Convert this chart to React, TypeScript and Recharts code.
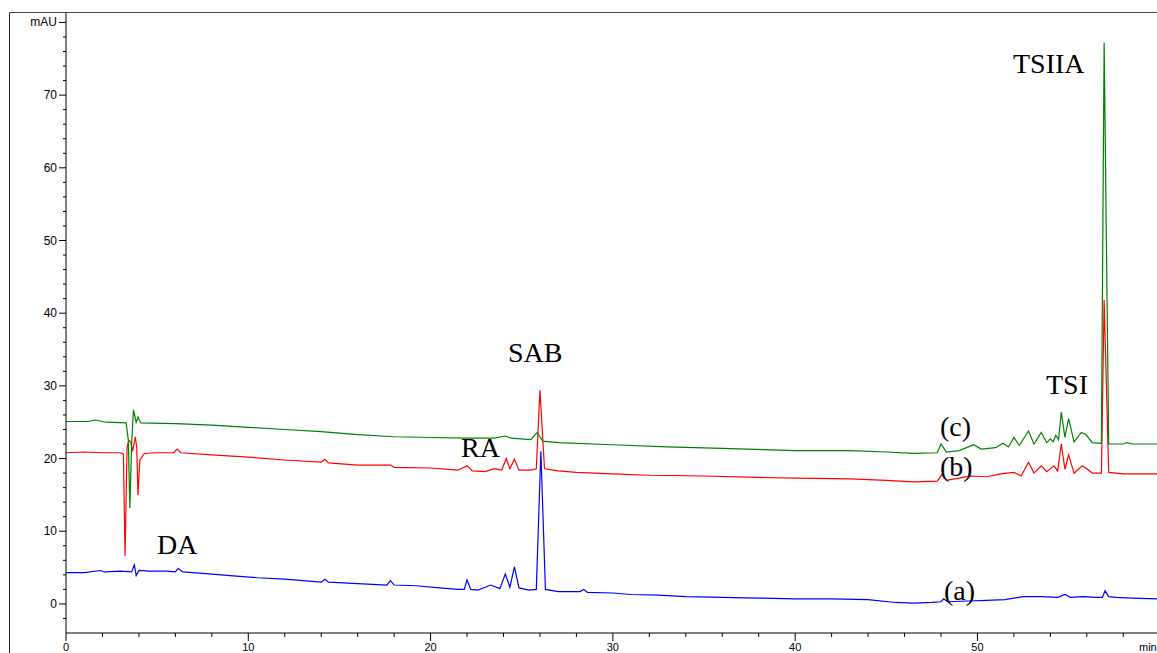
import React from 'react';
import { LineChart, Line, XAxis, YAxis } from 'recharts';

// retention time (min) / absorbance (mAU)
const traceA: [number, number][] = [
  [0, 4.3], [1, 4.3], [1.9, 4.6], [2.1, 4.4], [3, 4.5], [3.6, 4.4], [3.75, 5.4], [3.85, 3.9],
  [4.0, 4.6], [4.5, 4.5], [5.5, 4.5], [6.0, 4.4], [6.15, 4.9], [6.4, 4.4], [7.5, 4.2], [9, 3.9],
  [10.5, 3.6], [12, 3.4], [14.0, 3.0], [14.2, 3.4], [14.4, 3.0], [16, 2.8], [17.6, 2.6], [17.8, 3.2],
  [18.0, 2.6], [19.2, 2.5], [20.5, 2.2], [21.5, 2.0], [21.85, 2.0], [22.0, 3.3], [22.2, 2.0],
  [22.6, 1.9], [23.3, 2.6], [23.8, 2.1], [24.1, 4.1], [24.35, 2.3], [24.6, 5.1], [24.85, 2.2],
  [25.4, 1.9], [25.8, 2.0], [26.05, 21.0], [26.3, 2.0], [27, 1.7], [28.2, 1.7], [28.4, 2.0],
  [28.6, 1.6], [30, 1.5], [31, 1.3], [32.5, 1.2], [34, 1.0], [36, 0.9], [38, 0.8], [40, 0.7],
  [42, 0.7], [44, 0.6], [45.5, 0.2], [46.5, 0.1], [47.5, 0.2], [48.0, 0.3], [48.15, 0.7],
  [48.35, 0.3], [49.5, 0.4], [50.5, 0.5], [51.5, 0.6], [52.5, 1.0], [53.5, 1.0], [54.4, 0.9],
  [54.8, 1.3], [55.1, 0.9], [55.8, 1.0], [56.5, 0.9], [56.85, 0.9], [57.0, 1.8], [57.2, 1.0],
  [57.6, 0.9], [58.5, 0.8], [59.85, 0.7],
];

const traceB: [number, number][] = [
  [0, 20.8], [1, 20.9], [2, 20.8], [3.0, 20.8], [3.15, 20.6], [3.24, 6.6], [3.35, 21.5],
  [3.45, 22.5], [3.55, 22.3], [3.65, 21.0], [3.8, 23.0], [3.88, 21.5], [3.95, 15.0], [4.05, 19.8],
  [4.3, 20.7], [5, 20.8], [5.9, 20.8], [6.1, 21.3], [6.3, 20.8], [8, 20.5], [10, 20.2], [12, 19.8],
  [14, 19.5], [14.2, 19.9], [14.4, 19.4], [16, 19.1], [17.8, 19.1], [18, 18.8], [20, 18.7],
  [21.5, 18.4], [22.0, 19.0], [22.3, 18.3], [23.0, 18.2], [23.5, 18.6], [23.9, 18.4], [24.15, 20.0],
  [24.35, 18.6], [24.6, 19.9], [24.85, 18.4], [25.5, 18.4], [25.8, 18.6], [26.0, 29.4],
  [26.25, 18.6], [27, 18.3], [28, 18.1], [30, 17.9], [32, 17.7], [35, 17.6], [38, 17.4], [40, 17.3],
  [43, 17.2], [45, 17.0], [46.5, 16.8], [47.8, 16.9], [48.05, 17.8], [48.3, 17.0], [49.0, 17.3],
  [49.6, 17.6], [50.5, 17.5], [51.3, 17.9], [52.0, 18.1], [52.4, 17.6], [52.8, 19.5], [53.1, 18.0],
  [53.5, 19.0], [53.8, 18.2], [54.2, 19.0], [54.4, 18.3], [54.6, 22.0], [54.8, 18.5], [55.0, 20.5],
  [55.3, 18.0], [55.75, 19.0], [56.0, 18.6], [56.3, 18.0], [56.8, 18.0], [56.95, 41.8],
  [57.2, 18.1], [58, 17.9], [59.85, 17.9],
];

const traceC: [number, number][] = [
  [0, 25.1], [1.2, 25.1], [1.6, 25.3], [2.2, 25.0], [3.3, 24.9], [3.42, 22.5], [3.5, 13.2],
  [3.6, 22.0], [3.7, 26.7], [3.85, 25.0], [3.95, 25.7], [4.1, 24.9], [6, 24.8], [8, 24.6],
  [10, 24.3], [12, 24.0], [14, 23.7], [16, 23.3], [18, 23.0], [20, 22.9], [22, 22.8], [23.5, 22.8],
  [24.1, 23.1], [24.4, 22.8], [25.5, 22.6], [25.85, 23.6], [26.15, 22.4], [27, 22.2], [30, 21.9],
  [33, 21.6], [36, 21.4], [40, 21.1], [43, 21.1], [45, 20.9], [46.5, 20.7], [47.8, 20.8],
  [48.0, 22.0], [48.3, 20.9], [49.0, 21.1], [49.8, 21.9], [50.2, 21.3], [51.0, 21.5], [51.4, 22.1],
  [51.7, 21.6], [52.0, 22.9], [52.3, 21.8], [52.8, 23.8], [53.1, 22.0], [53.5, 23.6], [53.8, 22.2],
  [54.0, 22.7], [54.15, 22.3], [54.3, 23.2], [54.45, 22.6], [54.6, 26.4], [54.8, 22.9],
  [55.0, 25.5], [55.3, 22.3], [55.7, 23.6], [55.95, 23.3], [56.3, 22.2], [56.8, 22.1],
  [56.95, 77.2], [57.2, 22.0], [58.0, 22.0], [58.2, 22.2], [58.5, 22.0], [59.85, 22.0],
];

const xTicks = [0, 2, 4, 6, 8, 10, 12, 14, 16, 18, 20, 22, 24, 26, 28, 30, 32, 34, 36, 38, 40, 42, 44, 46, 48, 50, 52, 54, 56, 58];
const yTicks = [-2, 0, 2, 4, 6, 8, 10, 12, 14, 16, 18, 20, 22, 24, 26, 28, 30, 32, 34, 36, 38, 40, 42, 44, 46, 48, 50, 52, 54, 56, 58, 60, 62, 64, 66, 68, 70, 72, 74, 76, 78, 80];

const peakLabels = [
  { text: 'DA', x: 157, y: 554 },
  { text: 'RA', x: 461, y: 457 },
  { text: 'SAB', x: 508, y: 362 },
  { text: 'TSI', x: 1046, y: 394 },
  { text: 'TSIIA', x: 1013, y: 73 },
  { text: '(c)', x: 940, y: 436 },
  { text: '(b)', x: 940, y: 476 },
  { text: '(a)', x: 944, y: 600 },
];

const tickFont = '"Liberation Sans Narrow", "Arial Narrow", "Liberation Sans", sans-serif';

const toPoints = (trace: [number, number][]) => trace.map(([t, v]) => ({ t, v }));

const XTick = (props: any) => {
  const { x, y, payload } = props;
  const major = payload.value % 10 === 0;
  return (
    <g>
      <line x1={x} x2={x} y1={y} y2={y + (major ? 8 : 4)} stroke="#000" />
      {major && (
        <text x={x} y={y + 18} textAnchor="middle" fontSize={11} fontFamily={tickFont} fill="#000">
          {payload.value}
        </text>
      )}
    </g>
  );
};

const YTick = (props: any) => {
  const { x, y, payload } = props;
  const major = payload.value % 10 === 0;
  return (
    <g>
      <line x1={x} x2={x - (major ? 7 : 3)} y1={y} y2={y} stroke="#000" />
      {major && (
        <text x={x - 9} y={y + 4} textAnchor="end" fontSize={12} fontFamily={tickFont} fill="#000">
          {payload.value === 80 ? 'mAU' : payload.value}
        </text>
      )}
    </g>
  );
};

export default function App() {
  return (
    <div style={{ position: 'absolute', left: 0, top: 0, width: 1157, height: 653, background: '#fff' }}>
      <LineChart width={1157} height={653} margin={{ top: 13, right: 0, left: 8, bottom: 0 }}>
        <XAxis
          type="number"
          dataKey="t"
          domain={[0, 59.85]}
          ticks={xTicks}
          tick={<XTick />}
          tickSize={0}
          tickMargin={0}
          height={20}
          stroke="#000"
          allowDataOverflow
        />
        <YAxis
          type="number"
          dataKey="v"
          domain={[-4, 81.3]}
          ticks={yTicks}
          tick={<YTick />}
          tickSize={0}
          tickMargin={0}
          width={58}
          stroke="#000"
          interval={0}
          allowDataOverflow
        />
        <Line data={toPoints(traceA)} dataKey="v" type="linear" stroke="#0000ff" strokeWidth={1.2} dot={false} isAnimationActive={false} />
        <Line data={toPoints(traceB)} dataKey="v" type="linear" stroke="#ff0000" strokeWidth={1.2} dot={false} isAnimationActive={false} />
        <Line data={toPoints(traceC)} dataKey="v" type="linear" stroke="#008000" strokeWidth={1.2} dot={false} isAnimationActive={false} />
      </LineChart>
      <svg width={1157} height={653} style={{ position: 'absolute', left: 0, top: 0, pointerEvents: 'none' }}>
        <line x1={9.5} x2={9.5} y1={12.5} y2={653} stroke="#222" />
        <line x1={9.5} x2={1157} y1={12.5} y2={12.5} stroke="#444" />
        {peakLabels.map((l) => (
          <text key={l.text} x={l.x} y={l.y} fontSize={28} fontFamily='"Liberation Serif", "Times New Roman", serif' fill="#000">
            {l.text}
          </text>
        ))}
        <text x={1139} y={651} fontSize={11} fontFamily={tickFont} fill="#000">min</text>
      </svg>
    </div>
  );
}
